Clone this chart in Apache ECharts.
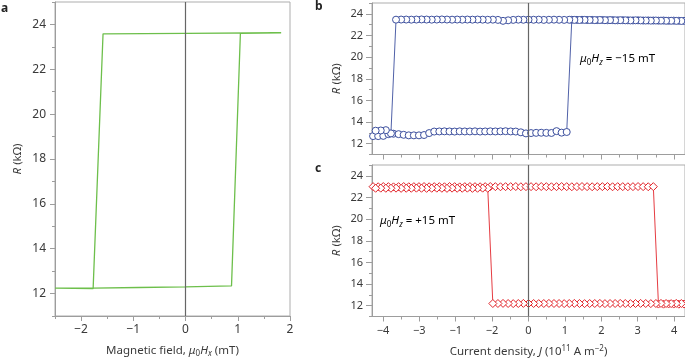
<!DOCTYPE html>
<html>
<head>
<meta charset="utf-8">
<script src="https://cdn.jsdelivr.net/npm/echarts@6.0.0/dist/echarts.min.js"></script>
<style>
  html, body { margin: 0; padding: 0; background: #fff; }
  #chart { width: 685px; height: 361px; }
</style>
</head>
<body>
<div id="chart"></div>
<script>
// panel a: field sweep loop
var fieldA  = [-2.5, -1.77, -0.9, 0, 0.88, 1.05, 1.83, 0, -1.58, -1.77, -2.5];
var resistA = [12.24, 12.24, 12.27, 12.30, 12.34, 23.60, 23.63, 23.60, 23.58, 12.22, 12.24];

// panels b and c: current sweeps (up: negative -> positive, down: positive -> negative)
var jUp = [
  -4.27, -4.13, -3.99, -3.85, -3.71, -3.57, -3.43, -3.29, -3.15, -3.01,
  -2.87, -2.73, -2.59, -2.45, -2.31, -2.17, -2.03, -1.89, -1.75, -1.61,
  -1.47, -1.33, -1.19, -1.05, -0.91, -0.77, -0.63, -0.49, -0.35, -0.21,
  -0.07, 0.07, 0.21, 0.35, 0.49, 0.63, 0.77, 0.91, 1.05, 1.19,
  1.33, 1.47, 1.61, 1.75, 1.89, 2.03, 2.17, 2.31, 2.45, 2.59,
  2.73, 2.87, 3.01, 3.15, 3.29, 3.43, 3.57, 3.71, 3.85, 3.99,
  4.13, 4.27
];
var jDown = [
  4.20, 4.06, 3.92, 3.78, 3.64, 3.50, 3.36, 3.22, 3.08, 2.94,
  2.80, 2.66, 2.52, 2.38, 2.24, 2.10, 1.96, 1.82, 1.68, 1.54,
  1.40, 1.26, 1.12, 0.98, 0.84, 0.70, 0.56, 0.42, 0.28, 0.14,
  0.00, -0.14, -0.28, -0.42, -0.56, -0.70, -0.84, -0.98, -1.12, -1.26,
  -1.40, -1.54, -1.68, -1.82, -1.96, -2.10, -2.24, -2.38, -2.52, -2.66,
  -2.80, -2.94, -3.08, -3.22, -3.36, -3.50, -3.64, -3.78, -3.92, -4.06,
  -4.20
];

// b: mu0Hz = -15 mT
var resistBUp = [
  12.70, 12.70, 12.72, 12.88, 12.92, 12.88, 12.82, 12.77, 12.77, 12.77,
  12.80, 12.98, 13.12, 13.13, 13.14, 13.13, 13.12, 13.14, 13.13, 13.13,
  13.14, 13.12, 13.13, 13.14, 13.13, 13.14, 13.15, 13.13, 13.12, 13.05,
  12.95, 12.98, 13.00, 13.01, 13.00, 12.99, 13.16, 13.02, 13.08, 23.45,
  23.44, 23.45, 23.43, 23.44, 23.42, 23.43, 23.41, 23.42, 23.40, 23.41,
  23.40, 23.39, 23.40, 23.38, 23.39, 23.38, 23.37, 23.38, 23.36, 23.37,
  23.36, 23.35
];
var resistBDown = [
  23.34, 23.35, 23.36, 23.36, 23.37, 23.38, 23.37, 23.38, 23.39, 23.40,
  23.39, 23.40, 23.41, 23.40, 23.42, 23.41, 23.43, 23.42, 23.43, 23.44,
  23.43, 23.44, 23.45, 23.44, 23.45, 23.46, 23.45, 23.44, 23.46, 23.45,
  23.46, 23.45, 23.46, 23.44, 23.40, 23.35, 23.44, 23.46, 23.45, 23.46,
  23.47, 23.46, 23.47, 23.46, 23.47, 23.46, 23.47, 23.48, 23.47, 23.46,
  23.47, 23.48, 23.47, 23.46, 23.47, 23.47, 23.46, 12.95, 13.25, 13.22,
  13.20
];

// c: mu0Hz = +15 mT
var resistCUp = [
  23.00, 22.99, 23.01, 23.00, 22.98, 23.00, 23.01, 22.99, 23.00, 23.00,
  23.01, 22.99, 23.00, 23.00, 22.99, 23.01, 23.00, 22.98, 23.00, 23.01,
  23.00, 22.99, 23.00, 23.01, 23.00, 22.99, 23.00, 23.00, 23.01, 22.99,
  23.00, 23.00, 22.99, 23.01, 23.00, 22.99, 23.00, 23.01, 23.00, 22.99,
  23.00, 23.01, 23.00, 22.99, 23.00, 23.00, 23.01, 22.99, 23.00, 23.00,
  22.99, 23.00, 23.01, 23.00, 22.99, 23.00, 12.15, 12.14, 12.16, 12.15,
  12.14, 12.15
];
var resistCDown = [
  12.20, 12.21, 12.19, 12.20, 12.21, 12.20, 12.19, 12.20, 12.21, 12.20,
  12.19, 12.20, 12.21, 12.20, 12.20, 12.19, 12.21, 12.20, 12.20, 12.19,
  12.20, 12.21, 12.20, 12.19, 12.20, 12.20, 12.21, 12.20, 12.19, 12.20,
  12.20, 12.21, 12.20, 12.19, 12.20, 12.21, 12.20, 12.20, 22.85, 22.86,
  22.85, 22.84, 22.86, 22.85, 22.85, 22.86, 22.84, 22.85, 22.86, 22.85,
  22.84, 22.85, 22.86, 22.85, 22.85, 22.84, 22.86, 22.85, 22.85, 22.86,
  22.85
];

// ticks
var hTicks = [-2, -1, 0, 1, 2];
var hLabels = ['\u22122', '\u22121', '0', '1', '2'];
var hMinor = [-2.5, -1.5, -0.5, 0.5, 1.5];
var jTicks = [-4, -3, -2, -1, 0, 1, 2, 3, 4];
var jLabels = ['\u22124', '\u22123', '\u22121', '\u22122', '0', '1', '2', '3', '4'];
var jMinor = [-3.5, -2.5, -1.5, -0.5, 0.5, 1.5, 2.5, 3.5];
var rTicks = [12, 14, 16, 18, 20, 22, 24];
var rLabels = ['12', '14', '16', '18', '20', '22', '24'];
var rMinor = [11, 13, 15, 17, 19, 21, 23, 25];

var FONT = 'Noto Sans';
var AXIS = '#9d9d9d';
var TXT = '#3a3a3a';
var GREEN = '#6dbf4b';
var BLUE = '#3c4f9e';
var RED = '#e2262c';

var rich = {
  n:   { fontFamily: FONT, fontSize: 11.5, color: TXT, lineHeight: 15 },
  i:   { fontFamily: FONT, fontSize: 11.5, color: TXT, fontStyle: 'italic', lineHeight: 15 },
  sub: { fontFamily: FONT, fontSize: 8, color: TXT, verticalAlign: 'bottom', lineHeight: 9 },
  si:  { fontFamily: FONT, fontSize: 8, color: TXT, fontStyle: 'italic', verticalAlign: 'bottom', lineHeight: 9 },
  sup: { fontFamily: FONT, fontSize: 8, color: TXT, verticalAlign: 'top', lineHeight: 9 }
};

function pair(a, b) {
  return a.map(function (v, k) { return [v, b[k]]; });
}

function pick(ticks, labels) {
  return function (v) {
    for (var k = 0; k < ticks.length; k++) {
      if (Math.abs(ticks[k] - v) < 1e-6) return labels[k];
    }
    return '';
  };
}

function axisPair(dim, grid, min, max, ticks, labels, minor, o) {
  var pos = dim === 'x' ? 'bottom' : 'left';
  var main = {
    type: 'value', gridIndex: grid, position: pos, min: min, max: max,
    axisLine: { show: true, onZero: false, lineStyle: { color: AXIS, width: 1 } },
    axisTick: { show: true, customValues: ticks, length: o.major, lineStyle: { color: AXIS } },
    axisLabel: {
      show: !!labels, customValues: ticks, formatter: labels ? pick(ticks, labels) : '',
      color: TXT, fontSize: o.size, fontFamily: FONT, margin: o.margin
    },
    splitLine: { show: false }
  };
  if (o.name) {
    main.name = o.name;
    main.nameLocation = 'middle';
    main.nameGap = o.gap;
    if (dim === 'y') main.nameRotate = 90;
    main.nameTextStyle = { fontFamily: FONT, fontSize: 11.5, color: TXT, lineHeight: 15, rich: rich };
  }
  var sub = {
    type: 'value', gridIndex: grid, position: pos, min: min, max: max,
    axisLine: { show: false, onZero: false },
    axisTick: { show: true, customValues: minor, length: o.minor, lineStyle: { color: AXIS } },
    axisLabel: { show: false },
    splitLine: { show: false }
  };
  return [main, sub];
}

var xs = [].concat(
  axisPair('x', 0, -2.5, 2, hTicks, hLabels, hMinor,
    { major: 5, minor: 3, size: 12, margin: 8, name: '{n|Magnetic field, }{i|\u03bc}{sub|0}{i|H}{si|x}{n| (mT)}', gap: 27 }),
  axisPair('x', 1, -4.3, 4.3, jTicks, null, jMinor, { major: 5, minor: 3, size: 11, margin: 8 }),
  axisPair('x', 2, -4.3, 4.3, jTicks, jLabels, jMinor,
    { major: 5, minor: 3, size: 11, margin: 9, name: '{n|Current density, }{i|J}{n| (10}{sup|11}{n| A m}{sup|\u22122}{n|)}', gap: 28 })
);
var ys = [].concat(
  axisPair('y', 0, 11, 25, rTicks, rLabels, rMinor,
    { major: 5, minor: 3, size: 12, margin: 9, name: '{i|R}{n| (k\u03a9)}', gap: 30 }),
  axisPair('y', 1, 11, 25, rTicks, rLabels, rMinor,
    { major: 6, minor: 3, size: 11, margin: 9, name: '{i|R}{n| (k\u03a9)}', gap: 28 }),
  axisPair('y', 2, 11, 25, rTicks, rLabels, rMinor,
    { major: 6, minor: 3, size: 11, margin: 9, name: '{i|R}{n| (k\u03a9)}', gap: 28 })
);

var zeroLine = {
  silent: true, symbol: 'none', label: { show: false },
  lineStyle: { color: '#666', width: 1.2, type: 'solid' },
  emphasis: { disabled: true },
  data: [{ xAxis: 0 }]
};

function sweep(grid, data, color, symbol, size, mark) {
  var s = {
    type: 'line', xAxisIndex: grid * 2, yAxisIndex: grid * 2, data: data,
    symbol: symbol, symbolSize: size, showSymbol: true, showAllSymbol: true,
    lineStyle: { color: color, width: 0.9 },
    itemStyle: { color: '#fff', borderColor: color, borderWidth: 1 },
    emphasis: { disabled: true }, z: 3
  };
  if (mark) s.markLine = zeroLine;
  return s;
}

var chart = echarts.init(document.getElementById('chart'), null, { renderer: 'canvas' });
chart.setOption({
  animation: false,
  backgroundColor: '#fff',
  grid: [
    { left: 55, top: 2, width: 235, height: 314, show: true, borderColor: '#adadad', borderWidth: 1, containLabel: false, outerBoundsMode: 'none' },
    { left: 372, top: 3, width: 313, height: 151.5, show: true, borderColor: '#adadad', borderWidth: 1, containLabel: false, outerBoundsMode: 'none' },
    { left: 372, top: 165, width: 313, height: 151.5, show: true, borderColor: '#adadad', borderWidth: 1, containLabel: false, outerBoundsMode: 'none' }
  ],
  xAxis: xs,
  yAxis: ys,
  series: [
    {
      type: 'line', xAxisIndex: 0, yAxisIndex: 0, data: pair(fieldA, resistA),
      showSymbol: false, symbol: 'none', lineStyle: { color: GREEN, width: 1.3 },
      emphasis: { disabled: true }, markLine: zeroLine
    },
    sweep(1, pair(jUp, resistBUp), BLUE, 'circle', 7, true),
    sweep(1, pair(jDown, resistBDown), BLUE, 'circle', 7, false),
    sweep(2, pair(jUp, resistCUp), RED, 'diamond', [8, 8], true),
    sweep(2, pair(jDown, resistCDown), RED, 'diamond', [8, 8], false)
  ],
  graphic: [
    { type: 'text', left: 1, top: 3, style: { text: 'a', font: 'bold 12px "Noto Sans"', fill: '#222' } },
    { type: 'text', left: 315, top: 1, style: { text: 'b', font: 'bold 12px "Noto Sans"', fill: '#222' } },
    { type: 'text', left: 315, top: 163, style: { text: 'c', font: 'bold 12px "Noto Sans"', fill: '#222' } },
    { type: 'text', left: 580, top: 53, z: 10,
      style: { text: '{i|\u03bc}{sub|0}{i|H}{si|z}{n| = \u221215 mT}', rich: rich } },
    { type: 'text', left: 380, top: 215, z: 10,
      style: { text: '{i|\u03bc}{sub|0}{i|H}{si|z}{n| = +15 mT}', rich: rich } }
  ]
});
</script>
</body>
</html>
